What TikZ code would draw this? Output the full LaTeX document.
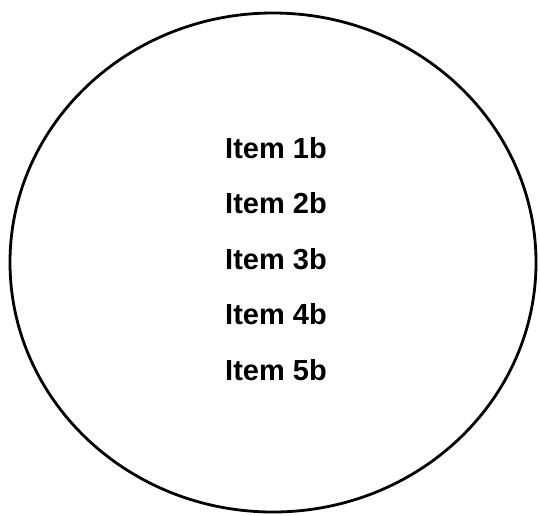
\documentclass[tikz,border=0pt]{standalone}
\usepackage{fontspec}
\setmainfont{Liberation Sans}
\begin{document}
\begin{tikzpicture}[x=1pt,y=-1pt,
  item/.style={font=\fontsize{29}{34}\selectfont\bfseries, inner sep=0pt, anchor=base}]
\useasboundingbox (0,0) rectangle (540,515);
\draw[line width=2.8pt] (273,262.5) ellipse [x radius=263, y radius=249.5];
\node[item] (i1) at (276,158) {Item 1b};
\node[item] (i2) at (276,213.5) {Item 2b};
\node[item] (i3) at (276,269) {Item 3b};
\node[item] (i4) at (276,324.5) {Item 4b};
\node[item] (i5) at (276,380) {Item 5b};
\end{tikzpicture}
\end{document}
